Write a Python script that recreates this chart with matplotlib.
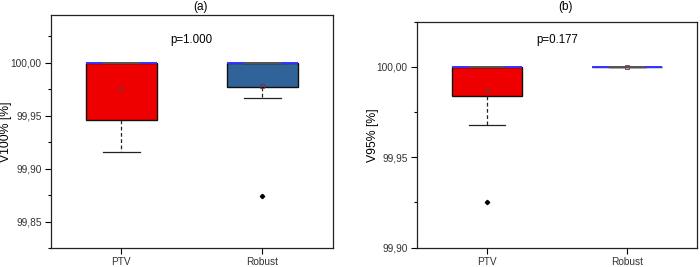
import matplotlib
matplotlib.use("Agg")
import matplotlib.pyplot as plt
from matplotlib.ticker import FuncFormatter, MultipleLocator

plt.rcParams["font.family"] = ["Liberation Sans", "DejaVu Sans"]

groups = ["PTV", "Robust"]

# panel (a): V100%
a_q1 = [99.946, 99.977]
a_med = [100.0, 100.0]
a_q3 = [100.0, 100.0]
a_lo = [99.916, 99.967]
a_hi = [100.0, 100.0]
a_mean = [99.975, 99.978]
a_fliers = [[], [99.874]]
a_p = "p=1.000"

# panel (b): V95%
b_q1 = [99.984, 100.0]
b_med = [100.0, 100.0]
b_q3 = [100.0, 100.0]
b_lo = [99.968, 100.0]
b_hi = [100.0, 100.0]
b_mean = [99.987, 100.0]
b_fliers = [[99.925], []]
b_p = "p=0.177"

box_colors = ["#ee0000", "#2f6399"]
comma = FuncFormatter(lambda v, pos: ("%.2f" % v).replace(".", ","))


def panel(ax, q1, med, q3, lo, hi, mean, fliers, ptext, ylabel, ylim, ty, lx):
    stats = []
    for i in range(len(groups)):
        stats.append(dict(label=groups[i], q1=q1[i], med=med[i], q3=q3[i],
                          whislo=lo[i], whishi=hi[i], mean=mean[i], fliers=fliers[i]))
    bp = ax.bxp(stats, positions=[1, 2], widths=0.5, capwidths=0.26,
                patch_artist=True, showmeans=True,
                boxprops=dict(edgecolor="#111111", linewidth=1.0),
                whiskerprops=dict(color="#222222", linestyle=(0, (3, 2)), linewidth=0.9),
                capprops=dict(color="#222222", linewidth=0.9),
                medianprops=dict(color="#3333ff", linewidth=1.4),
                meanprops=dict(marker="s", markersize=2.5, markerfacecolor="none",
                               markeredgecolor="#773333", markeredgewidth=0.6),
                flierprops=dict(marker="D", markersize=2.2, markerfacecolor="black",
                                markeredgecolor="black"))
    for patch, c in zip(bp["boxes"], box_colors):
        patch.set_facecolor(c)
    # dark middle part of the median line
    for i, m in enumerate(med):
        ax.hlines(m, i + 1 - 0.13, i + 1 + 0.13, color="#555555", linewidth=1.4, zorder=3)
    ax.set_xlim(0.5, 2.5)
    ax.set_ylim(*ylim)
    ax.yaxis.set_major_locator(MultipleLocator(0.05))
    ax.yaxis.set_minor_locator(MultipleLocator(0.025))
    ax.yaxis.set_major_formatter(comma)
    ax.tick_params(axis="both", which="major", direction="out", length=4, width=0.8,
                   labelsize=7.3, labelcolor="#333333", pad=2.5)
    ax.tick_params(axis="y", which="minor", direction="out", length=2.5, width=0.8)
    for s in ax.spines.values():
        s.set_linewidth(0.9)
        s.set_color("#222222")
    ax.set_ylabel(ylabel, fontsize=8.8)
    ax.yaxis.set_label_coords(lx, 0.5)
    ax.text(0.5, ty, ptext, transform=ax.transAxes, ha="center", va="center", fontsize=8.3)
    return bp


fig = plt.figure(figsize=(7.0, 2.67), dpi=100)
ax1 = fig.add_axes([0.0724, 0.0712, 0.4033, 0.8727])
ax2 = fig.add_axes([0.5953, 0.0723, 0.4004, 0.8464])

panel(ax1, a_q1, a_med, a_q3, a_lo, a_hi, a_mean, a_fliers, a_p,
      "V100% [%]", (99.825, 100.045), 0.893, -0.136)
panel(ax2, b_q1, b_med, b_q3, b_lo, b_hi, b_mean, b_fliers, b_p,
      "V95% [%]", (99.90, 100.025), 0.919, -0.133)

fig.text(0.287, 0.972, "(a)", ha="center", va="center", fontsize=8.5)
fig.text(0.808, 0.972, "(b)", ha="center", va="center", fontsize=8.5)

fig.savefig("out.png", dpi=100)
